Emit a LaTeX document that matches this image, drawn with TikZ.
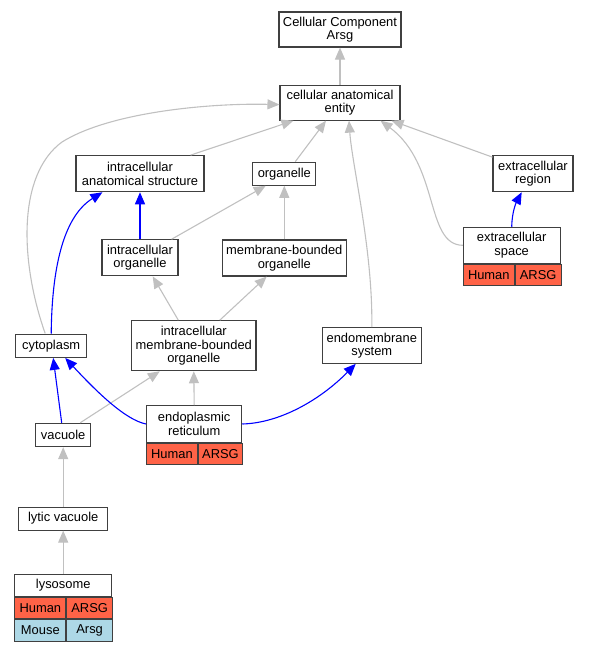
\documentclass[tikz,border=0pt]{standalone}
\usepackage{fontspec}
\setmainfont{Liberation Sans}
\usetikzlibrary{positioning,arrows.meta}
\definecolor{humancol}{HTML}{FF6347}
\definecolor{mousecol}{HTML}{ADD8E6}
\definecolor{isacol}{HTML}{0000FF}
\definecolor{partcol}{HTML}{C0C0C0}

\begin{document}
\begin{tikzpicture}[x=1pt, y=-1pt,
    go box/.style={draw=black!75, line width=1.1pt, fill=white, rectangle, align=center, inner sep=0pt, font=\fontsize{12.9}{13.4}\selectfont},
    go cell/.style={draw=black!75, line width=1pt, rectangle, inner sep=0pt, minimum height=21.6pt, anchor=north west, font=\fontsize{12.9}{13.4}\selectfont},
    part edge/.style={draw=partcol, line width=1.1pt, -{Triangle[length=12pt,width=10pt]}},
    isa edge/.style={draw=isacol, line width=1.1pt, -{Triangle[length=12pt,width=10pt]}}]
    \useasboundingbox (0,0) rectangle (589,648);

    % terms
    \node[go box, minimum width=122pt, minimum height=35pt] (cc) at (340,29.5) {Cellular Component\\Arsg};
    \node[go box, minimum width=120pt, minimum height=35pt, below=37pt of cc] (cae) {cellular anatomical\\entity};
    \node[go box, minimum width=128pt, minimum height=36pt] (ias) at (140,173.7) {intracellular\\anatomical structure};
    \node[go box, minimum width=63pt, minimum height=23pt] (org) at (284.3,173.7) {organelle};
    \node[go box, minimum width=80pt, minimum height=36pt] (exr) at (533,173.7) {extracellular\\region};
    \node[go box, minimum width=76pt, minimum height=36pt, below=47pt of ias] (io) {intracellular\\organelle};
    \node[go box, minimum width=124pt, minimum height=36pt, below=53.7pt of org] (mbo) {membrane-bounded\\organelle};
    \node[go box, minimum width=96.7pt, minimum height=36pt] (exs) at (511.7,245.3) {extracellular\\space};
    \node[go box, minimum width=124.3pt, minimum height=50pt] (imbo) at (193.8,345.7) {intracellular\\membrane-bounded\\organelle};
    \node[go box, minimum width=71pt, minimum height=23.3pt] (cyto) at (51.2,345.7) {cytoplasm};
    \node[go box, minimum width=99pt, minimum height=35.6pt] (ems) at (371.8,345.5) {endomembrane\\system};
    \node[go box, minimum width=95pt, minimum height=36.6pt] (er) at (194.2,424) {endoplasmic\\reticulum};
    \node[go box, minimum width=55pt, minimum height=23.3pt] (vac) at (63.2,435) {vacuole};
    \node[go box, minimum width=89pt, minimum height=23pt, below=59.3pt of vac] (lv) {lytic vacuole};
    \node[go box, minimum width=96.6pt, minimum height=21.7pt, below=43.3pt of lv] (lys) {lysosome};

    % gene rows
    \node[go cell, fill=humancol, minimum width=50.6pt] (erhum) at (er.south west) {Human};
    \node[go cell, fill=humancol, minimum width=44.4pt] (ergene) at (erhum.north east) {ARSG};
    \node[go cell, fill=humancol, minimum width=51pt] (exshum) at (exs.south west) {Human};
    \node[go cell, fill=humancol, minimum width=45.7pt] (exsgene) at (exshum.north east) {ARSG};
    \node[go cell, fill=humancol, minimum width=51pt] (lyshum) at (lys.south west) {Human};
    \node[go cell, fill=humancol, minimum width=45.6pt] (lysgene) at (lyshum.north east) {ARSG};
    \node[go cell, fill=mousecol, minimum width=51pt] (lysmus) at (lyshum.south west) {Mouse};
    \node[go cell, fill=mousecol, minimum width=45.6pt] (lysmgene) at (lysmus.north east) {Arsg};

    % part of / grey edges
    \draw[part edge] (cae.north) -- (cae.north -| cc.south) -- (cc.south);
    \draw[part edge] ([xshift=-14pt]ias.north east) -- ([xshift=14pt]cae.south west);
    \draw[part edge] ([xshift=11pt]org.north) -- ([xshift=-14pt]cae.south);
    \draw[part edge] (ems.north) .. controls (373,250) and (352,165) .. ([xshift=9pt]cae.south);
    \draw[part edge] ([yshift=-2pt]exr.north west) -- ([xshift=-9pt]cae.south east);
    \draw[part edge] (exs.west) .. controls (425,245) and (440,165) .. ([xshift=-20pt]cae.south east);
    \draw[part edge] ([xshift=-6pt]cyto.north) .. controls (20,262) and (17,175) .. (62,142)
        .. controls (110,112) and (210,103) .. ([yshift=-2pt]cae.west);
    \draw[part edge] ([xshift=-7pt]io.north east) -- ([xshift=13.5pt]org.south west);
    \draw[part edge] (mbo.north) -- (org.south);
    \draw[part edge] ([xshift=-15.5pt]imbo.north) -- ([xshift=12.7pt]io.south);
    \draw[part edge] ([xshift=26pt]imbo.north) -- ([xshift=-17.6pt]mbo.south);
    \draw[part edge] ([xshift=17pt]vac.north) -- ([xshift=-34pt]imbo.south);
    \draw[part edge] (er.north) -- (imbo.south);
    \draw[part edge] (lv) -- (vac);
    \draw[part edge] (lys) -- (lv);

    % is a / blue edges
    \draw[isa edge] (io) -- (io |- ias.south);
    \draw[isa edge] (cyto.north) .. controls (52,260) and (66,215) .. ([xshift=27pt]ias.south west);
    \draw[isa edge] ([xshift=-1.5pt]vac.north) -- ([xshift=2pt]cyto.south);
    \draw[isa edge] (er.west) .. controls (125,420) and (95,390) .. ([xshift=14pt]cyto.south);
    \draw[isa edge] (er.east) .. controls (280,423) and (320,400) .. ([xshift=34pt]ems.south west);
    \draw[isa edge] (exs.north) .. controls (512,212) and (516,203) .. ([xshift=-11.3pt]exr.south);
\end{tikzpicture}
\end{document}
